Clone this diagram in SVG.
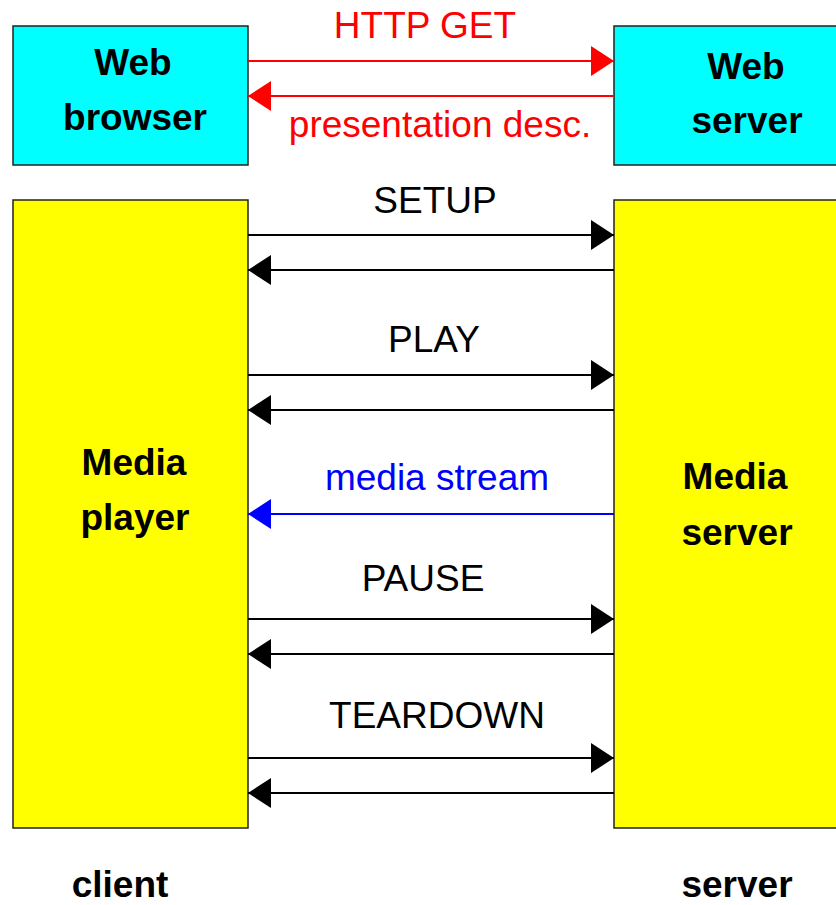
<svg xmlns="http://www.w3.org/2000/svg" width="836" height="905" viewBox="0 0 836 905">
  <style>
    .box { stroke: #222; stroke-width: 1.5; }
    .web { fill: #00ffff; }
    .media { fill: #ffff00; }
    .label { font-family: "Liberation Sans", Arial, sans-serif; font-size: 37px; text-anchor: middle; }
    .bold { font-weight: bold; fill: #000; }
    .msg { fill: #000; }
    .line { stroke-width: 2; fill: none; }
  </style>
  <defs>
    <marker id="ah-black" markerUnits="userSpaceOnUse" markerWidth="24" markerHeight="30" refX="23" refY="15" orient="auto">
      <path d="M0,0 L23,15 L0,30 Z" fill="#000"/>
    </marker>
    <marker id="ah-red" markerUnits="userSpaceOnUse" markerWidth="24" markerHeight="30" refX="23" refY="15" orient="auto">
      <path d="M0,0 L23,15 L0,30 Z" fill="#ff0000"/>
    </marker>
    <marker id="ah-blue" markerUnits="userSpaceOnUse" markerWidth="24" markerHeight="30" refX="23" refY="15" orient="auto">
      <path d="M0,0 L23,15 L0,30 Z" fill="#0000ff"/>
    </marker>
  </defs>

  <rect width="836" height="905" fill="#fff"/>

  <g id="web-browser">
    <rect class="box web" x="13" y="26" width="235" height="139"/>
    <text class="label bold" x="133" y="75">Web</text>
    <text class="label bold" x="135" y="130">browser</text>
  </g>

  <g id="web-server">
    <rect class="box web" x="614" y="26" width="230" height="139"/>
    <text class="label bold" x="746" y="79">Web</text>
    <text class="label bold" x="747" y="133">server</text>
  </g>

  <g id="media-player">
    <rect class="box media" x="13" y="200" width="235" height="628"/>
    <text class="label bold" x="134" y="475">Media</text>
    <text class="label bold" x="135" y="530">player</text>
  </g>

  <g id="media-server">
    <rect class="box media" x="614" y="200" width="230" height="628"/>
    <text class="label bold" x="735" y="489">Media</text>
    <text class="label bold" x="737" y="545">server</text>
  </g>

  <g id="connectors">
    <line class="line" stroke="#ff0000" x1="248" y1="61" x2="614" y2="61" marker-end="url(#ah-red)"/>
    <line class="line" stroke="#ff0000" x1="614" y1="96" x2="248" y2="96" marker-end="url(#ah-red)"/>

    <line class="line" stroke="#000" x1="248" y1="235" x2="614" y2="235" marker-end="url(#ah-black)"/>
    <line class="line" stroke="#000" x1="614" y1="270" x2="248" y2="270" marker-end="url(#ah-black)"/>

    <line class="line" stroke="#000" x1="248" y1="375" x2="614" y2="375" marker-end="url(#ah-black)"/>
    <line class="line" stroke="#000" x1="614" y1="410" x2="248" y2="410" marker-end="url(#ah-black)"/>

    <line class="line" stroke="#0000ff" x1="614" y1="514" x2="248" y2="514" marker-end="url(#ah-blue)"/>

    <line class="line" stroke="#000" x1="248" y1="619" x2="614" y2="619" marker-end="url(#ah-black)"/>
    <line class="line" stroke="#000" x1="614" y1="654" x2="248" y2="654" marker-end="url(#ah-black)"/>

    <line class="line" stroke="#000" x1="248" y1="758" x2="614" y2="758" marker-end="url(#ah-black)"/>
    <line class="line" stroke="#000" x1="614" y1="793" x2="248" y2="793" marker-end="url(#ah-black)"/>
  </g>

  <g id="connector-labels">
    <text class="label" fill="#ff0000" x="425" y="38">HTTP GET</text>
    <text class="label" fill="#ff0000" x="440" y="137">presentation desc.</text>
    <text class="label msg" x="435" y="213">SETUP</text>
    <text class="label msg" x="434" y="352">PLAY</text>
    <text class="label" fill="#0000ff" x="437" y="490">media stream</text>
    <text class="label msg" x="423" y="591">PAUSE</text>
    <text class="label msg" x="437" y="728">TEARDOWN</text>
  </g>

  <g id="side-labels">
    <text class="label bold" x="120" y="897">client</text>
    <text class="label bold" x="737" y="897">server</text>
  </g>
</svg>
